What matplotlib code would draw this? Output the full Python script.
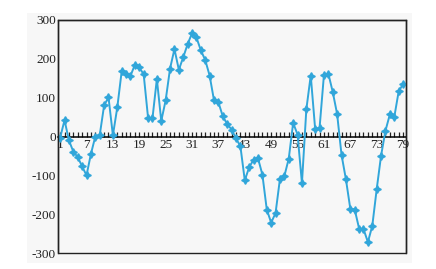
import numpy as np
import matplotlib
matplotlib.use('Agg')
import matplotlib.pyplot as plt
from matplotlib.patches import Rectangle

# Values, one per category 1..79
x_vals = np.arange(1, 80)
y_vals = [
    -3, 42, -10, -39, -53, -77, -100, -45, 0, 3,
    80, 101, 3, 75, 168, 160, 156, 185, 178, 160,
    48, 47, 148, 40, 93, 175, 225, 172, 204, 238,
    266, 255, 222, 197, 157, 93, 88, 52, 32, 18,
    -5, -25, -113, -79, -60, -56, -98, -188, -222, -197,
    -109, -102, -57, 35, 5, -120, 70, 157, 20, 21,
    158, 162, 115, 58, -47, -110, -186, -188, -237, -238,
    -272, -230, -136, -49, 15, 57, 50, 116, 135,
]
x_labels = list(range(1, 80, 6))
y_ticks = [-300, -200, -100, 0, 100, 200, 300]

LINE_COL = '#31a6da'
BG = '#f7f7f7'

plt.rcParams['font.family'] = ['Liberation Serif', 'DejaVu Serif']

W, H = 436, 269
fig = plt.figure(figsize=(W / 100, H / 100), dpi=100)
fig.patch.set_facecolor('white')

# light grey panel behind the chart
fig.patches.append(Rectangle((27 / W, 1 - 263 / H), (412 - 27) / W, (263 - 13) / H,
                             transform=fig.transFigure, facecolor=BG,
                             edgecolor='none', zorder=-10))

ax = fig.add_axes([57.5 / W, 1 - 253 / H, (405.7 - 57.5) / W, (253 - 20) / H])
ax.set_zorder(5)
ax.set_facecolor(BG)

ax.plot(x_vals, y_vals, color=LINE_COL, lw=1.4,
        marker=(4, 1, 0), ms=5.5, mfc=LINE_COL, mec=LINE_COL, zorder=3)

ax.set_xlim(0.4, 79.6)
ax.set_ylim(-300, 300)

# x axis sits on y = 0, box frame kept by a rectangle
ax.spines['bottom'].set_position(('data', 0))
ax.spines['bottom'].set_linewidth(1.1)
for s in ['top', 'left', 'right']:
    ax.spines[s].set_linewidth(1.0)
    ax.spines[s].set_color('#222222')
ax.add_patch(Rectangle((0, 0), 1, 1, transform=ax.transAxes, fill=False,
                       edgecolor='#222222', lw=1.0, clip_on=False, zorder=4))

ax.set_xticks(x_labels)
ax.set_xticks(x_vals, minor=True)
ax.tick_params(axis='x', which='both', direction='in', length=3.5,
               width=0.9, labelsize=9.5, pad=1.5, color='#222222')
ax.set_yticks(y_ticks)
ax.set_yticklabels([str(v) for v in y_ticks])
ax.tick_params(axis='y', length=0, pad=1, labelsize=9.5)

for lbl in ax.get_xticklabels() + ax.get_yticklabels():
    lbl.set_color('#222222')

fig.savefig('out.png', dpi=100)
